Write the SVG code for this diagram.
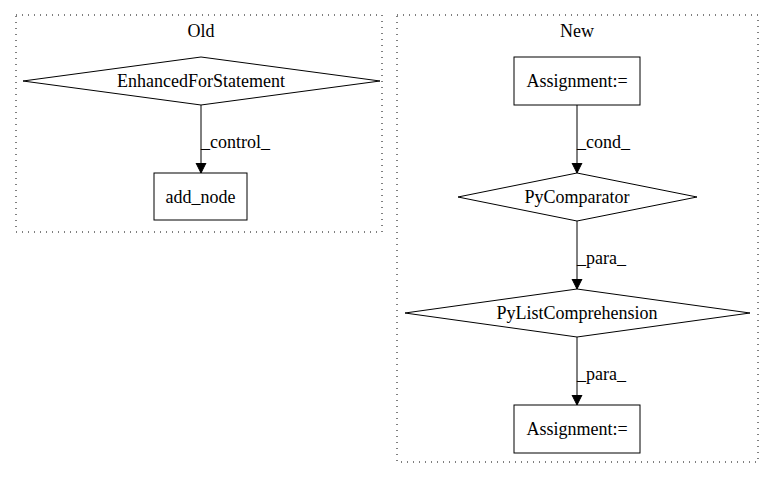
<svg xmlns="http://www.w3.org/2000/svg" width="773" height="480" viewBox="0 0 773 480">
<style>
text{font-family:"Liberation Serif","Times New Roman",Times,serif;font-size:18px;fill:#000}
.c{fill:none;stroke:#000;stroke-dasharray:1,5}
.n{fill:#fff;stroke:#000;stroke-width:1}
.e{fill:none;stroke:#000;stroke-width:1}
</style>
<defs>
<marker id="ah" markerWidth="10" markerHeight="12" refX="10" refY="6" orient="auto" markerUnits="userSpaceOnUse">
<path d="M0,1 L10,6 L0,11 Z" fill="#000" stroke="#000"/>
</marker>
</defs>
<rect width="773" height="480" fill="#fff"/>
<g font-family="Liberation Serif, Times New Roman, serif" font-size="18">
<g id="cluster_old">
<rect class="c" x="16" y="15" width="366" height="217"/>
<text x="201" y="37" text-anchor="middle">Old</text>
</g>
<g id="cluster_new">
<rect class="c" x="397" y="15" width="361" height="447"/>
<text x="577" y="37" text-anchor="middle">New</text>
</g>
<g id="n_efs">
<polygon class="n" points="201,57 380,81 201,105 23,81"/>
<text x="201" y="87" text-anchor="middle">EnhancedForStatement</text>
</g>
<g id="n_addnode">
<rect class="n" x="154" y="173" width="93" height="47"/>
<text x="200.5" y="203" text-anchor="middle">add_node</text>
</g>
<g id="n_assign1">
<rect class="n" x="514" y="57" width="126" height="48"/>
<text x="577" y="87" text-anchor="middle">Assignment:=</text>
</g>
<g id="n_pycomp">
<polygon class="n" points="577,173 697,197 577,221 458,197"/>
<text x="577" y="203" text-anchor="middle">PyComparator</text>
</g>
<g id="n_pylist">
<polygon class="n" points="577,289 750,313 577,337 405,313"/>
<text x="577" y="319" text-anchor="middle">PyListComprehension</text>
</g>
<g id="n_assign2">
<rect class="n" x="514" y="405" width="126" height="48"/>
<text x="577" y="435" text-anchor="middle">Assignment:=</text>
</g>
<g id="edges">
<line class="e" x1="201" y1="105" x2="201" y2="173" marker-end="url(#ah)"/>
<text x="201" y="148">_control_</text>
<line class="e" x1="577" y1="105" x2="577" y2="173" marker-end="url(#ah)"/>
<text x="577" y="148">_cond_</text>
<line class="e" x1="577" y1="221" x2="577" y2="289" marker-end="url(#ah)"/>
<text x="577" y="264">_para_</text>
<line class="e" x1="577" y1="337" x2="577" y2="405" marker-end="url(#ah)"/>
<text x="577" y="380">_para_</text>
</g>
</g>
</svg>
